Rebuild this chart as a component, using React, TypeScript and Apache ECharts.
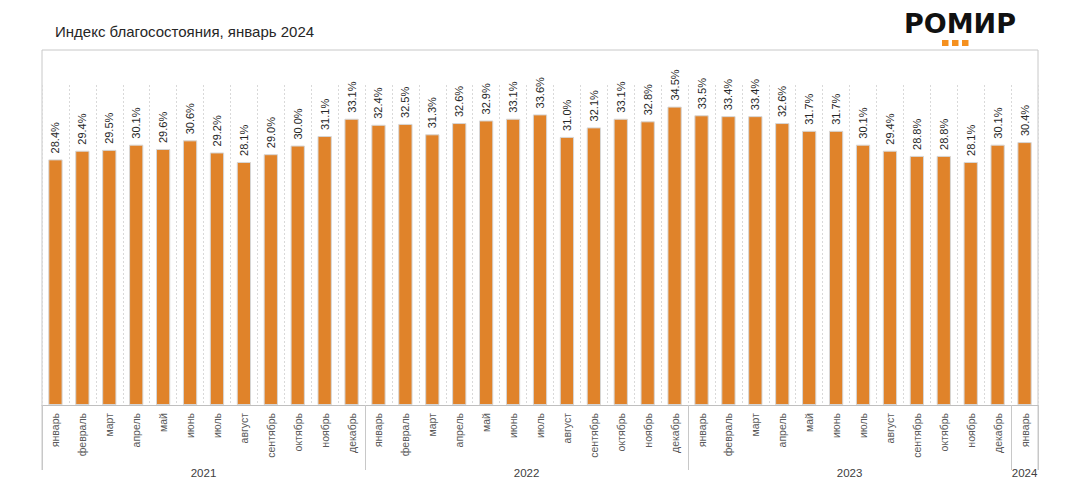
import React, { useEffect, useRef } from "react";
import * as echarts from "echarts";

const months = ["январь", "февраль", "март", "апрель", "май", "июнь", "июль", "август", "сентябрь", "октябрь", "ноябрь", "декабрь"];
const years = ["2021", "2022", "2023", "2024"];
const values2021 = [28.4, 29.4, 29.5, 30.1, 29.6, 30.6, 29.2, 28.1, 29.0, 30.0, 31.1, 33.1];
const values2022 = [32.4, 32.5, 31.3, 32.6, 32.9, 33.1, 33.6, 31.0, 32.1, 33.1, 32.8, 34.5];
const values2023 = [33.5, 33.4, 33.4, 32.6, 31.7, 31.7, 30.1, 29.4, 28.8, 28.8, 28.1, 30.1];
const values2024 = [30.4];
const title = "Индекс благосостояния, январь 2024";

export default function App() {
  const ref = useRef<HTMLDivElement>(null);
  useEffect(() => {
    if (!ref.current) return;
    const chart = echarts.init(ref.current, null, { renderer: "svg" });
    const groups = [values2021, values2022, values2023, values2024];
    const values: number[] = [];
    const cats: string[] = [];
    const bounds: number[] = [0];
    const mids: number[] = [];
    const yearAt: Record<string, string> = {};
    groups.forEach((g, gi) => {
      const start = values.length;
      g.forEach((v, i) => {
        values.push(v);
        cats.push(months[i]);
      });
      const end = values.length;
      bounds.push(end);
      const mid = (start + end) / 2;
      mids.push(mid);
      yearAt[String(mid)] = years[gi];
    });
    const n = values.length;
    const L = 42, R = 42, T = 85, B = 80;
    const W = 1080;
    chart.setOption({
      animation: false,
      backgroundColor: "#ffffff",
      textStyle: { fontFamily: "Liberation Sans, Arial, sans-serif" },
      title: {
        text: title,
        left: 50,
        top: 19,
        textStyle: { fontSize: 15, fontWeight: "normal", color: "#262626", fontFamily: "Liberation Sans, Arial, sans-serif" },
      },
      grid: { left: L, right: R, top: T, bottom: B, containLabel: false },
      graphic: [
        {
          type: "polyline",
          shape: { points: [[L, 470], [L, 50], [W - R, 50], [W - R, 470]] },
          style: { stroke: "#c8c8c8", lineWidth: 1, fill: "none" },
          silent: true,
        },
        {
          type: "text",
          left: 904,
          top: 10,
          style: { text: "РОМИР", font: "bold 27px 'DejaVu Sans'", fill: "#111111" },
        },
        { type: "rect", shape: { x: 942, y: 40, width: 6.5, height: 6 }, style: { fill: "#F5901E" } },
        { type: "rect", shape: { x: 952, y: 40, width: 6.5, height: 6 }, style: { fill: "#F5901E" } },
        { type: "rect", shape: { x: 962, y: 40, width: 6.5, height: 6 }, style: { fill: "#F5901E" } },
      ],
      xAxis: [
        {
          type: "category",
          data: cats,
          position: "bottom",
          axisLine: { show: true, lineStyle: { color: "#bfbfbf", width: 1 } },
          axisTick: { show: false },
          splitLine: { show: true, interval: 0, lineStyle: { type: [2, 2], color: "#d9d9d9", width: 1 } },
          axisLabel: { interval: 0, rotate: 90, fontSize: 10.5, color: "#595959", margin: 8 },
        },
        {
          type: "value",
          position: "bottom",
          min: 0,
          max: n,
          axisLine: { show: false },
          splitLine: { show: false },
          axisTick: { show: true, customValues: bounds, length: 65, lineStyle: { color: "#c8c8c8", width: 1 } },
          axisLabel: {
            show: true,
            customValues: mids,
            margin: 68,
            fontSize: 11.5,
            color: "#404040",
            verticalAlign: "middle",
            formatter: (v: number) => yearAt[String(v)] || "",
          },
        },
      ],
      yAxis: {
        type: "value",
        min: 0,
        max: 37,
        show: false,
        splitLine: { show: false },
      },
      series: [
        {
          type: "bar",
          data: values,
          barWidth: "53%",
          itemStyle: { color: "#E0832A", borderColor: "#d6d6d6", borderWidth: 1 },
          label: {
            show: true,
            position: "top",
            rotate: 90,
            align: "left",
            verticalAlign: "middle",
            distance: 6,
            fontSize: 11,
            color: "#262626",
            formatter: (p: any) => p.value.toFixed(1) + "%",
          },
        },
      ],
    });
    return () => chart.dispose();
  }, []);
  return <div ref={ref} style={{ width: 1080, height: 485, margin: -8 }} />;
}
